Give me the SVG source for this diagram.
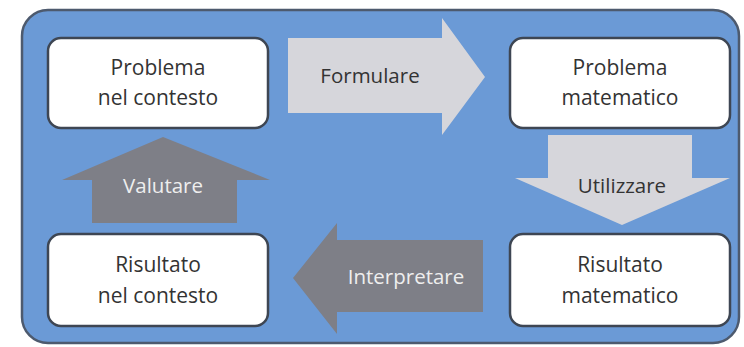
<svg xmlns="http://www.w3.org/2000/svg" width="744" height="347" viewBox="0 0 744 347">
<defs>
<style>
.node rect{fill:#ffffff;stroke:#3e4653;stroke-width:2.5}
.node text{font-family:"Open Sans","Liberation Sans",sans-serif;font-size:21px;fill:#333333;text-anchor:middle}
.light{fill:#d6d6db}
.dark{fill:#7e7f87}
.lbl{font-family:"Open Sans","Liberation Sans",sans-serif;font-size:20.5px;text-anchor:middle}
.lbl-dark{fill:#333333}
.lbl-light{fill:#eeeeee}
</style>
</defs>
<rect x="0" y="0" width="744" height="347" fill="#ffffff"/>
<rect id="frame" x="22" y="10" width="717" height="333" rx="26" fill="#6b9ad6" stroke="#4d5a6e" stroke-width="2.5"/>
<g id="connectors">
<g id="formulare">
<polygon class="light" points="288,38 442,38 442,18 485,77 442,135 442,113 288,113"/>
<text class="lbl lbl-dark" x="370" y="83">Formulare</text>
</g>
<g id="utilizzare">
<polygon class="light" points="548,135 692,135 692,178 730,178 622,225 515,178 548,178"/>
<text class="lbl lbl-dark" x="622" y="193">Utilizzare</text>
</g>
<g id="interpretare">
<polygon class="dark" points="483,240 483,312 337,312 337,334 293,278 337,223 337,240"/>
<text class="lbl lbl-light" x="406" y="284">Interpretare</text>
</g>
<g id="valutare">
<polygon class="dark" points="92,223 237,223 237,180 270,180 163,137 62,180 92,180"/>
<text class="lbl lbl-light" x="163" y="193">Valutare</text>
</g>
</g>
<g id="problema-contesto" class="node">
<rect x="48" y="38" width="220" height="90" rx="13"/>
<text x="158" y="75">Problema</text>
<text x="158" y="105">nel contesto</text>
</g>
<g id="problema-matematico" class="node">
<rect x="510" y="38" width="220" height="90" rx="13"/>
<text x="620" y="75">Problema</text>
<text x="620" y="105">matematico</text>
</g>
<g id="risultato-contesto" class="node">
<rect x="48" y="234" width="220" height="92" rx="13"/>
<text x="158" y="272">Risultato</text>
<text x="158" y="303">nel contesto</text>
</g>
<g id="risultato-matematico" class="node">
<rect x="510" y="234" width="220" height="92" rx="13"/>
<text x="620" y="272">Risultato</text>
<text x="620" y="303">matematico</text>
</g>
</svg>
